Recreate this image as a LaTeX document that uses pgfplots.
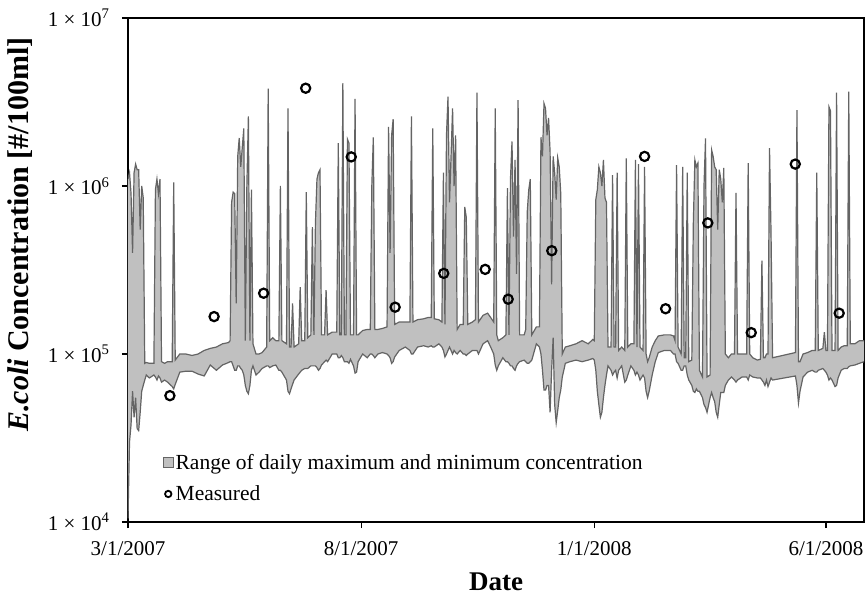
\documentclass[border=0pt]{standalone}
\usepackage{fontspec}
\setmainfont{Liberation Serif}
\usepackage{pgfplots}
\usepackage{pgfplotstable}
\pgfplotsset{compat=1.18}
\usepgfplotslibrary{fillbetween}
\definecolor{bandfill}{RGB}{192,192,192}
\definecolor{bandline}{RGB}{100,100,100}

\pgfplotstableread{
d max min
0 1.1e6 1.05e4
1 1.2e6 3.0e4
2 9.0e5 3.8e4
3 4.0e5 6.0e4
4 1.2e6 4.2e4
5 1.35e6 5.5e4
6 1.25e6 3.6e4
7 1.25e6 3.5e4
8 5.5e5 4.5e4
9 1.0e6 6.0e4
10 8.5e5 6.5e4
11 8.8e4 7.0e4
12 8.9e4 7.5e4
14 8.8e4 7.2e4
17 8.8e4 7.5e4
18 9.5e5 7.3e4
19 1.1e6 7.0e4
20 9.0e5 7.4e4
21 1.1e6 7.2e4
22 9.0e4 6.8e4
24 8.8e4 7.0e4
26 9.0e4 6.8e4
29 9.0e4 6.4e4
30 1.05e6 6.2e4
31 9.2e4 6.6e4
34 1.0e5 7.8e4
38 1.0e5 7.9e4
42 9.8e4 7.9e4
46 1.0e5 7.6e4
50 1.05e5 7.4e4
54 1.08e5 8.6e4
58 1.1e5 8.0e4
62 1.15e5 8.6e4
66 1.17e5 8.9e4
67 1.2e5 9.0e4
68 8.0e5 9.0e4
69 9.2e5 8.5e4
70 9.0e5 8.0e4
71 2.0e5 8.0e4
72 1.5e6 8.5e4
73 1.93e6 8.5e4
74 1.3e6 8.2e4
75 1.7e6 8.0e4
76 2.2e6 7.5e4
77 1.2e5 6.5e4
78 1.0e6 6.0e4
79 2.6e6 5.8e4
80 1.2e5 6.5e4
81 9.5e5 8.0e4
82 1.15e5 8.5e4
84 1.0e5 7.5e4
86 1.0e5 7.8e4
88 1.02e5 8.2e4
91 1.1e5 8.5e4
92 3.8e6 8.5e4
93 1.2e5 8.3e4
95 1.25e5 8.5e4
97 1.2e5 8.6e4
99 1.2e5 8.0e4
100 1.0e6 8.0e4
101 1.2e5 7.8e4
104 1.15e5 7.0e4
105 2.9e6 6.0e4
106 1.1e5 5.8e4
107 1.1e5 6.2e4
108 2.0e5 6.6e4
109 1.1e5 7.0e4
112 1.15e5 7.6e4
113 2.5e5 7.8e4
114 1.2e5 8.0e4
116 1.2e5 8.2e4
117 9.2e5 8.2e4
118 1.25e5 8.2e4
120 1.3e5 8.5e4
121 5.7e5 8.5e4
122 1.3e5 8.5e4
123 6.0e5 8.5e4
124 1.1e6 8.3e4
125 1.2e6 8.0e4
126 1.25e6 8.2e4
127 1.3e5 8.6e4
129 1.3e5 9.0e4
130 2.4e5 9.2e4
131 1.3e5 9.0e4
134 1.35e5 1.0e5
137 1.35e5 1.0e5
138 1.8e6 9.5e4
139 1.3e5 9.5e4
140 1.3e5 9.8e4
141 4.1e6 9.5e4
142 1.3e5 9.0e4
143 1.3e5 9.0e4
144 1.9e6 9.0e4
145 1.8e6 8.8e4
146 1.3e5 9.3e4
148 1.3e5 8.5e4
149 3.3e6 7.7e4
150 1.3e5 7.8e4
151 1.3e5 9.0e4
154 1.38e5 1.0e5
157 1.4e5 9.5e4
159 1.4e5 1.0e5
160 1.0e6 1.0e5
161 1.95e6 9.8e4
162 1.4e5 9.5e4
164 1.4e5 1.0e5
167 1.42e5 1.02e5
170 1.45e5 1.0e5
171 2.25e6 9.8e4
172 4.0e5 9.5e4
173 2.0e6 8.8e4
174 2.5e6 9.0e4
175 1.5e5 9.6e4
178 1.55e5 1.05e5
182 1.55e5 1.1e5
185 1.55e5 1.05e5
186 2.6e6 1.0e5
187 1.55e5 1.0e5
190 1.6e5 1.1e5
194 1.62e5 1.12e5
197 1.65e5 1.1e5
199 1.65e5 1.12e5
200 2.2e6 1.1e5
201 1.62e5 1.1e5
204 1.6e5 1.15e5
206 1.55e5 1.1e5
207 1.2e6 1.05e5
208 1.5e5 9.6e4
209 2.0e6 1.0e5
210 3.4e6 1.05e5
211 8.0e5 1.1e5
212 1.5e6 1.05e5
213 2.9e6 1.0e5
214 1.0e6 1.05e5
215 2.0e6 1.02e5
216 1.4e5 1.0e5
218 1.5e5 1.05e5
220 1.5e5 1.0e5
221 7.5e5 1.0e5
222 6.5e5 9.8e4
223 1.5e5 1.0e5
226 1.55e5 1.05e5
228 1.6e5 1.05e5
229 3.6e6 1.05e5
230 1.55e5 1.0e5
233 1.7e5 1.15e5
236 1.75e5 1.2e5
238 1.65e5 1.1e5
240 1.55e5 1.0e5
241 2.9e6 8.6e4
242 1.3e5 8.0e4
243 1.2e5 8.5e4
246 1.25e5 9.5e4
248 1.3e5 9.0e4
249 9.7e5 9.0e4
250 1.3e5 8.8e4
251 1.1e6 8.5e4
252 1.84e6 8.5e4
253 5.0e5 8.2e4
254 1.43e6 8.0e4
255 3.0e5 8.5e4
256 3.25e6 8.8e4
257 1.3e5 9.0e4
260 1.3e5 9.2e4
261 1.4e5 9.0e4
262 7.0e5 8.8e4
263 9.5e5 8.8e4
264 1.1e6 9.0e4
265 1.3e5 9.2e4
268 1.45e5 1.15e5
270 1.45e5 1.1e5
271 1.95e6 1.0e5
272 1.5e6 8.0e4
273 3.1e6 6.1e4
274 2.9e6 6.1e4
275 2.0e6 6.5e4
276 2.54e6 6.5e4
277 1.6e6 4.5e4
278 2.6e5 8.0e4
279 1.5e6 1.25e5
280 1.2e6 5.0e4
281 8.3e5 3.9e4
282 1.47e6 4.6e4
283 1.3e6 5.5e4
284 9.0e5 6.1e4
285 1.0e5 7.3e4
286 1.05e5 8.0e4
287 1.1e5 8.8e4
290 1.12e5 9.0e4
294 1.15e5 9.2e4
298 1.2e5 9.0e4
302 1.15e5 9.2e4
305 1.22e5 9.4e4
306 1.2e5 9.2e4
307 8.3e5 8.0e4
308 9.5e5 6.0e4
309 1.3e6 5.0e4
310 1.2e6 4.2e4
311 1.0e6 4.5e4
312 1.43e6 5.5e4
313 8.5e5 6.5e4
314 8.0e5 7.5e4
315 1.1e5 8.5e4
317 1.1e5 8.0e4
318 1.16e6 7.5e4
319 1.1e5 7.8e4
320 1.1e5 8.0e4
321 1.2e6 7.2e4
322 1.05e5 8.0e4
324 1.1e5 8.5e4
326 1.05e5 6.8e4
327 1.46e6 7.0e4
328 1.1e5 7.5e4
330 1.15e5 8.5e4
332 1.15e5 8.0e4
333 1.43e6 7.5e4
334 1.1e5 7.8e4
335 1.35e6 7.5e4
336 1.1e5 7.0e4
338 1.05e5 7.5e4
339 1.3e6 7.2e4
340 1.0e5 6.0e4
341 9.0e4 5.5e4
342 9.5e4 6.0e4
344 1.1e5 7.5e4
346 1.2e5 9.0e4
348 1.28e5 1.02e5
352 1.3e5 1.05e5
356 1.3e5 1.05e5
358 1.28e5 1.0e5
359 1.2e5 1.0e5
360 1.33e6 9.0e4
361 1.1e5 8.8e4
363 1.0e5 8.0e4
364 1.3e6 8.0e4
365 9.5e4 8.5e4
366 9.5e4 8.5e4
367 1.2e6 7.5e4
368 9.0e4 7.0e4
370 9.2e4 6.5e4
371 6.0e5 6.0e4
372 1.43e6 5.9e4
373 1.3e6 6.2e4
374 1.37e6 6.0e4
375 8.0e4 6.0e4
377 7.3e4 5.5e4
378 1.0e6 5.0e4
379 1.92e6 4.8e4
380 7.3e4 4.5e4
382 7.5e4 5.5e4
383 1.64e6 5.9e4
384 1.5e6 5.5e4
385 1.3e6 5.2e4
386 1.25e6 4.5e4
387 5.5e5 4.2e4
388 1.25e6 5.0e4
389 1.1e6 5.9e4
390 8.0e5 5.9e4
391 1.28e6 5.9e4
392 1.0e5 6.5e4
394 9.5e4 7.0e4
396 1.0e5 7.3e4
398 1.0e5 7.0e4
399 9.1e5 6.8e4
400 1.0e5 7.0e4
403 1.0e5 7.3e4
406 1.0e5 7.3e4
407 1.37e6 7.0e4
408 1.0e5 7.5e4
410 9.5e4 7.3e4
413 9.2e4 7.2e4
415 9.3e4 7.2e4
416 3.6e5 7.0e4
417 9.5e4 6.8e4
418 9.5e4 6.5e4
419 1.0e5 7.0e4
420 1.0e5 6.4e4
421 1.68e6 6.8e4
422 5.2e5 7.2e4
423 9.5e4 7.0e4
438 1.02e5 7.4e4
439 2.83e6 6.5e4
440 9.0e4 5.1e4
441 9.0e4 6.0e4
443 1.0e5 7.3e4
446 1.02e5 7.8e4
449 1.05e5 8.0e4
451 1.05e5 7.8e4
452 1.2e6 7.8e4
453 1.05e5 8.0e4
456 1.08e5 8.2e4
457 1.35e5 8.0e4
458 1.05e5 7.8e4
459 1.05e5 7.5e4
460 2.96e6 7.0e4
461 2.8e6 7.2e4
462 1.05e5 7.0e4
464 1.05e5 6.4e4
465 3.6e6 6.5e4
466 1.05e5 7.2e4
468 1.1e5 8.0e4
470 1.12e5 8.2e4
472 1.12e5 8.2e4
473 3.64e6 8.4e4
474 1.15e5 8.5e4
477 1.15e5 8.6e4
480 1.2e5 8.8e4
483 1.2e5 9.0e4
}\band

\pgfplotstableread{
d conc
27.5 5.65e4
56.5 1.67e5
89 2.3e5
116.6 3.82e6
146.5 1.49e6
175.3 1.9e5
207.2 3.02e5
234.4 3.19e5
249.5 2.12e5
278.1 4.12e5
339 1.5e6
352.8 1.86e5
380.5 6.03e5
409 1.34e5
437.9 1.35e6
466.7 1.75e5
}\measured

\begin{document}
\begin{tikzpicture}
\begin{axis}[
  at={(0pt,0pt)}, anchor=south west,
  scale only axis,
  width=736pt, height=504pt,
  xmin=0, xmax=483,
  ymode=log, ymin=1e4, ymax=1e7,
  axis line style={line width=1.2pt, black},
  tick align=outside, tick pos=left,
  major tick length=6pt,
  every tick/.style={line width=1.2pt, black},
  yminorticks=false,
  xtick={0,153,306,458},
  xticklabels={3/1/2007,8/1/2007,1/1/2008,6/1/2008},
  ytick={1e4,1e5,1e6,1e7},
  yticklabels={1 × 10\textsuperscript{4},1 × 10\textsuperscript{5},1 × 10\textsuperscript{6},1 × 10\textsuperscript{7}},
  xticklabel style={font=\fontsize{21}{25}\selectfont, yshift=-10pt},
  yticklabel style={font=\fontsize{21}{25}\selectfont, xshift=-9pt},
  xlabel={\textbf{Date}},
  xlabel style={font=\fontsize{27}{31}\selectfont, at={(axis description cs:0.5,-0.118)}, anchor=center},
  ylabel={\textbf{\textit{E.coli}} \textbf{Concentration [\#/100ml]}},
  ylabel style={font=\fontsize{30}{34}\selectfont, at={(axis description cs:-0.147,0.57)}, anchor=center},
  legend style={at={(0.043,0.031)}, anchor=south west, draw=none, fill=none,
    font=\fontsize{21.5}{25}\selectfont, row sep=11pt,
    cells={anchor=west}},
  legend cell align=left,
]
\addplot[name path=up, draw=bandline, line width=1.2pt, forget plot] table[x=d, y=max] {\band};
\addplot[name path=lo, draw=bandline, line width=1.2pt, forget plot] table[x=d, y=min] {\band};
\addplot[bandfill, forget plot] fill between[of=up and lo];
\addlegendimage{legend image code/.code={\draw[fill=bandfill, draw=bandline, line width=0.8pt] (2pt,-5pt) rectangle (12pt,5pt);}}
\addlegendentry{Range of daily maximum and minimum concentration}
\addplot[only marks, mark=o, mark size=4.6pt, line width=2.2pt, black,
  legend image code/.code={\draw[black, line width=1.8pt] (7pt,0pt) circle (3.2pt);}] table[x=d, y=conc] {\measured};
\addlegendentry{Measured}
\end{axis}
\pgfresetboundingbox
\useasboundingbox (-128pt,-73pt) rectangle (737pt,522pt);
\end{tikzpicture}
\end{document}
